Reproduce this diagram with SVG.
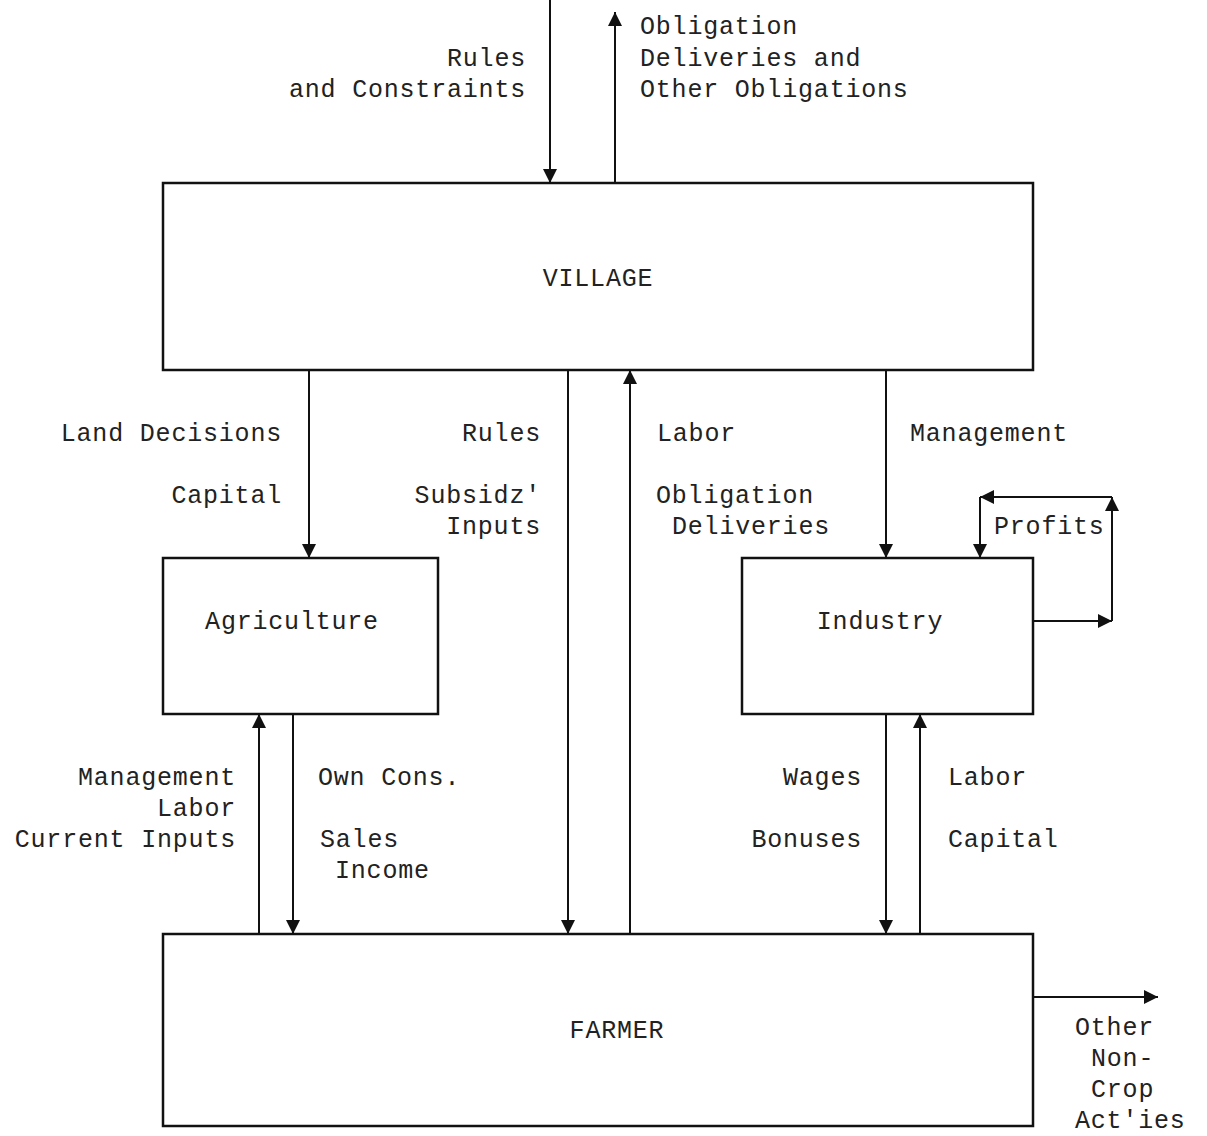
<svg xmlns="http://www.w3.org/2000/svg" width="1207" height="1136" viewBox="0 0 1207 1136">
<style>
.box{fill:none;stroke:#111;stroke-width:2.5}
.c{fill:none;stroke:#111;stroke-width:2}
text{font-family:"Liberation Mono","Courier New",monospace;font-size:25px;letter-spacing:0.8px;fill:#222}
.r{text-anchor:end}
.m{text-anchor:middle}
</style>
<defs>
<marker id="ah" viewBox="0 0 10 10" refX="10" refY="5" markerWidth="14" markerHeight="14" markerUnits="userSpaceOnUse" orient="auto">
<path d="M0,0 L10,5 L0,10 z" fill="#111"/>
</marker>
</defs>
<rect width="1207" height="1136" fill="#fff"/>
<g id="village"><rect class="box" x="163" y="183" width="870" height="187"/><text class="m" x="598" y="286">VILLAGE</text></g>
<g id="agriculture"><rect class="box" x="163" y="558" width="275" height="156"/><text class="m" x="292" y="629">Agriculture</text></g>
<g id="industry"><rect class="box" x="742" y="558" width="291" height="156"/><text class="m" x="880" y="629">Industry</text></g>
<g id="farmer"><rect class="box" x="163" y="934" width="870" height="192"/><text class="m" x="617" y="1038">FARMER</text></g>
<g id="connectors">
<line class="c" x1="550" y1="0" x2="550" y2="183" marker-end="url(#ah)"/>
<line class="c" x1="615" y1="183" x2="615" y2="12" marker-end="url(#ah)"/>
<line class="c" x1="309" y1="370" x2="309" y2="558" marker-end="url(#ah)"/>
<line class="c" x1="568" y1="370" x2="568" y2="934" marker-end="url(#ah)"/>
<line class="c" x1="630" y1="934" x2="630" y2="370" marker-end="url(#ah)"/>
<line class="c" x1="886" y1="370" x2="886" y2="558" marker-end="url(#ah)"/>
<line class="c" x1="1033" y1="621" x2="1112" y2="621" marker-end="url(#ah)"/>
<line class="c" x1="1112" y1="621" x2="1112" y2="497" marker-end="url(#ah)"/>
<line class="c" x1="1112" y1="497" x2="980" y2="497" marker-end="url(#ah)"/>
<line class="c" x1="980" y1="497" x2="980" y2="558" marker-end="url(#ah)"/>
<line class="c" x1="259" y1="934" x2="259" y2="714" marker-end="url(#ah)"/>
<line class="c" x1="293" y1="714" x2="293" y2="934" marker-end="url(#ah)"/>
<line class="c" x1="886" y1="714" x2="886" y2="934" marker-end="url(#ah)"/>
<line class="c" x1="920" y1="934" x2="920" y2="714" marker-end="url(#ah)"/>
<line class="c" x1="1033" y1="997" x2="1158" y2="997" marker-end="url(#ah)"/>
</g>
<g id="labels">
<text class="r" x="526" y="66">Rules</text>
<text class="r" x="526" y="97">and Constraints</text>
<text x="640" y="34">Obligation</text>
<text x="640" y="66">Deliveries and</text>
<text x="640" y="97">Other Obligations</text>
<text class="r" x="282" y="441">Land Decisions</text>
<text class="r" x="282" y="503">Capital</text>
<text class="r" x="541" y="441">Rules</text>
<text class="r" x="541" y="503">Subsidz'</text>
<text class="r" x="541" y="534">Inputs</text>
<text x="657" y="441">Labor</text>
<text x="656" y="503">Obligation</text>
<text x="672" y="534">Deliveries</text>
<text x="910" y="441">Management</text>
<text x="994" y="534">Profits</text>
<text class="r" x="236" y="785">Management</text>
<text class="r" x="236" y="816">Labor</text>
<text class="r" x="236" y="847">Current Inputs</text>
<text x="318" y="785">Own Cons.</text>
<text x="320" y="847">Sales</text>
<text x="335" y="878">Income</text>
<text class="r" x="862" y="785">Wages</text>
<text class="r" x="862" y="847">Bonuses</text>
<text x="948" y="785">Labor</text>
<text x="948" y="847">Capital</text>
<text x="1075" y="1035">Other</text>
<text x="1091" y="1066">Non-</text>
<text x="1091" y="1097">Crop</text>
<text x="1075" y="1128">Act'ies</text>
</g>
</svg>
